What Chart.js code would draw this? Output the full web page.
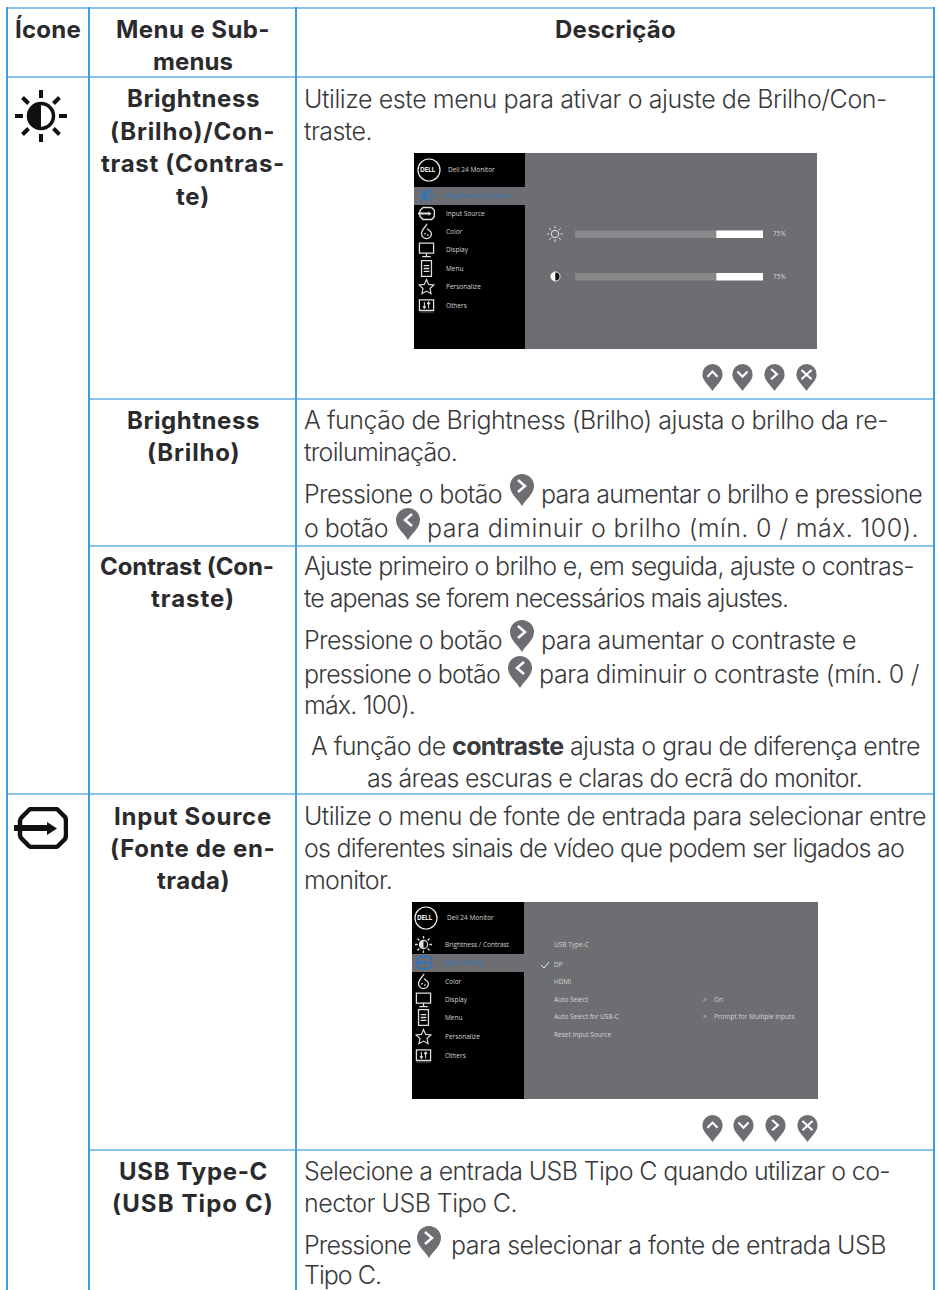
<!DOCTYPE html>
<html lang="pt">
<head>
<meta charset="utf-8">
<title>Ícone, Menu e Submenus, Descrição</title>
<script src="https://cdn.jsdelivr.net/npm/chart.js@4"></script>
<style>
  html, body { margin: 0; padding: 0; background: #fff; }
  #page { position: relative; width: 940px; height: 1290px; overflow: hidden; font-family: Inter, sans-serif; color: #3a3a3c; }
  .l { position: absolute; white-space: nowrap; font-size: 25px; line-height: 26px; margin-top: 3px; font-weight: 300; }
  .b { font-weight: 700; color: #2b2b2d; font-size: 24px; margin-top: 4px; }
  .v { position: absolute; width: 2px; background: #3d9fde; }
  .h { position: absolute; height: 2px; background: #8cc3ea; }
  .pin { position: absolute; width: 24px; height: 32px; }
  .pin.sm { width: 21px; height: 27px; }
  .osd { position: absolute; background: #6d6e71; }
  .osd .side { position: absolute; left: 0; top: 0; bottom: 0; background: #000; }
  .osd .hi { position: absolute; left: 0; height: 18px; background: #6d6e71; }
  .osd .m { position: absolute; font-size: 6.5px; line-height: 8px; color: #d4d4d4; white-space: nowrap; font-family: "Open Sans", sans-serif; }
  .osd .m.on { color: #2677c4; }
  .osd svg { position: absolute; }
  #brilhoChart { position: absolute; left: 525px; top: 153px; }
</style>
</head>
<body>
<svg width="0" height="0" style="position:absolute">
  <defs>
    <symbol id="sun" viewBox="0 0 52 52">
      <circle cx="26" cy="26" r="12.5" fill="none" stroke="currentColor" stroke-width="3.5"/>
      <path d="M26 13.5a12.5 12.5 0 0 0 0 25z" fill="currentColor"/>
      <path d="M26 0v8M26 44v8M0 26h8M44 26h8M7.500 7.500l6 6M38.500 38.500l6 6M7.500 44.500l6-6M38.500 13.500l6-6" stroke="currentColor" stroke-width="4" fill="none"/>
    </symbol>
    <symbol id="sunline" viewBox="0 0 52 52">
      <circle cx="26" cy="26" r="12" fill="none" stroke="currentColor" stroke-width="3"/>
      <path d="M26 0v8M26 44v8M0 26h8M44 26h8M7.500 7.500l6 6M38.500 38.500l6 6M7.500 44.500l6-6M38.500 13.500l6-6" stroke="currentColor" stroke-width="3" fill="none"/>
    </symbol>
    <symbol id="input" viewBox="0 0 54 42">
      <path d="M6 14 Q6 12 8 10 L15 3 Q16 2 18 2 H41 Q43 2 44 3 L51 10 Q52 12 52 14 V28 Q52 30 51 32 L44 39 Q43 40 41 40 H18 Q16 40 15 39 L8 32 Q6 30 6 28Z" fill="none" stroke="currentColor" stroke-width="4.500"/>
      <path d="M0 18 H33 V15 L43 21.500 L33 28 V24 H0z" fill="currentColor"/>
    </symbol>
    <symbol id="color" viewBox="0 0 20 24">
      <path d="M11 1 C8 6 3 10 3 15 a7 7 0 0 0 14 0 c0-4-4-4-6-7" fill="none" stroke="currentColor" stroke-width="1.800"/>
      <circle cx="8" cy="15" r="1.200" fill="currentColor"/><circle cx="12" cy="17" r="1.200" fill="currentColor"/>
    </symbol>
    <symbol id="display" viewBox="0 0 24 24">
      <path d="M2 3h20v14H2z" fill="none" stroke="currentColor" stroke-width="1.800"/>
      <path d="M12 17v4M6 22h12" stroke="currentColor" stroke-width="1.800"/>
    </symbol>
    <symbol id="menu" viewBox="0 0 24 24">
      <path d="M5 1h14v22H5z" fill="none" stroke="currentColor" stroke-width="1.800"/>
      <path d="M8 8h8M8 12h8M8 16h8" stroke="currentColor" stroke-width="1.800"/>
    </symbol>
    <symbol id="star" viewBox="0 0 24 24">
      <path d="M12 2l3 7 7.500 .8-5.600 5 1.600 7.400-6.500-3.800-6.500 3.800 1.600-7.400-5.600-5L9 9z" fill="none" stroke="currentColor" stroke-width="1.600"/>
    </symbol>
    <symbol id="others" viewBox="0 0 24 24">
      <path d="M2 4h20v15H2z" fill="none" stroke="currentColor" stroke-width="1.800"/>
      <path d="M9 7v9M7 13l2 3 2-3M15 16V7M13 10l2-3 2 3" fill="none" stroke="currentColor" stroke-width="1.500"/>
      <path d="M2 21h20" stroke="#555" stroke-width="2"/>
    </symbol>
    <symbol id="half" viewBox="0 0 12 12">
      <path d="M6 1a5 5 0 0 0 0 10z" fill="#fff"/>
      <path d="M6 1a5 5 0 0 1 0 10z" fill="#111"/>
      <circle cx="6" cy="6" r="5" fill="none" stroke="#fff" stroke-width="1"/>
    </symbol>
    <symbol id="pinUp" viewBox="0 0 24 32"><path d="M12 32C8 25 0 20 0 12A12 12 0 0 1 24 12C24 20 16 25 12 32Z" fill="#6d6e71"/><path d="M6 15l6-6 6 6" fill="none" stroke="#fff" stroke-width="2.500"/></symbol>
    <symbol id="pinDown" viewBox="0 0 24 32"><path d="M12 32C8 25 0 20 0 12A12 12 0 0 1 24 12C24 20 16 25 12 32Z" fill="#6d6e71"/><path d="M6 9l6 6 6-6" fill="none" stroke="#fff" stroke-width="2.500"/></symbol>
    <symbol id="pinRight" viewBox="0 0 24 32"><path d="M12 32C8 25 0 20 0 12A12 12 0 0 1 24 12C24 20 16 25 12 32Z" fill="#6d6e71"/><path d="M8 6l7 6-7 6" fill="none" stroke="#fff" stroke-width="2.500"/></symbol>
    <symbol id="pinLeft" viewBox="0 0 24 32"><path d="M12 32C8 25 0 20 0 12A12 12 0 0 1 24 12C24 20 16 25 12 32Z" fill="#6d6e71"/><path d="M16 6l-7 6 7 6" fill="none" stroke="#fff" stroke-width="2.500"/></symbol>
    <symbol id="pinX" viewBox="0 0 24 32"><path d="M12 32C8 25 0 20 0 12A12 12 0 0 1 24 12C24 20 16 25 12 32Z" fill="#6d6e71"/><path d="M6 7l12 11M18 7L6 18" fill="none" stroke="#fff" stroke-width="2.500"/></symbol>
  </defs>
</svg>

<div id="page">
  <!-- grelha da tabela -->
  <div class="h" style="left:6px;top:7px;width:929px"></div>
  <div class="h" style="left:6px;top:76px;width:929px"></div>
  <div class="h" style="left:89px;top:398px;width:846px"></div>
  <div class="h" style="left:89px;top:545px;width:846px"></div>
  <div class="h" style="left:6px;top:793px;width:929px"></div>
  <div class="h" style="left:89px;top:1149px;width:846px"></div>
  <div class="v" style="left:6px;top:7px;height:1283px"></div>
  <div class="v" style="left:88px;top:7px;height:1283px"></div>
  <div class="v" style="left:295px;top:7px;height:1283px"></div>
  <div class="v" style="left:933px;top:7px;height:1283px"></div>

  <!-- cabeçalho -->
  <div class="l b" data-w="66" style="left:15px;top:13px">Ícone</div>
  <div class="l b" data-w="154" style="left:116px;top:13px">Menu e Sub-</div>
  <div class="l b" data-w="80" style="left:153px;top:45px">menus</div>
  <div class="l b" data-w="121" style="left:555px;top:13px">Descrição</div>

  <!-- coluna de menus -->
  <div class="l b" data-w="133" style="left:127px;top:82px">Brightness</div>
  <div class="l b" data-w="165" style="left:110px;top:115px">(Brilho)/Con-</div>
  <div class="l b" data-w="184" style="left:101px;top:147px">trast (Contras-</div>
  <div class="l b" data-w="34" style="left:176px;top:180px">te)</div>
  <div class="l b" data-w="133" style="left:127px;top:404px">Brightness</div>
  <div class="l b" data-w="93" style="left:147px;top:436px">(Brilho)</div>
  <div class="l b" data-w="174" style="left:100px;top:550px">Contrast (Con-</div>
  <div class="l b" data-w="84" style="left:151px;top:582px">traste)</div>
  <div class="l b" data-w="158" style="left:114px;top:800px">Input Source</div>
  <div class="l b" data-w="165" style="left:110px;top:832px">(Fonte de en-</div>
  <div class="l b" data-w="73" style="left:157px;top:864px">trada)</div>
  <div class="l b" data-w="149" style="left:119px;top:1155px">USB Type-C</div>
  <div class="l b" data-w="162" style="left:112px;top:1187px">(USB Tipo C)</div>

  <!-- coluna de descrição -->
  <div class="l" data-w="583" style="left:304px;top:83px">Utilize este menu para ativar o ajuste de Brilho/Con-</div>
  <div class="l" data-w="68" style="left:304px;top:115px">traste.</div>
  <div class="l" data-w="584" style="left:304px;top:404px">A função de Brightness (Brilho) ajusta o brilho da re-</div>
  <div class="l" data-w="153" style="left:304px;top:436px">troiluminação.</div>
  <div class="l" data-w="198" style="left:304px;top:478px">Pressione o botão</div>
  <div class="l" data-w="381" style="left:541px;top:478px">para aumentar o brilho e pressione</div>
  <div class="l" data-w="84" style="left:304px;top:512px">o botão</div>
  <div class="l" data-w="492" style="left:427px;top:512px">para diminuir o brilho (mín. 0 / máx. 100).</div>
  <div class="l" data-w="610" style="left:304px;top:550px">Ajuste primeiro o brilho e, em seguida, ajuste o contras-</div>
  <div class="l" data-w="484" style="left:304px;top:582px">te apenas se forem necessários mais ajustes.</div>
  <div class="l" data-w="198" style="left:304px;top:624px">Pressione o botão</div>
  <div class="l" data-w="315" style="left:541px;top:624px">para aumentar o contraste e</div>
  <div class="l" data-w="196" style="left:304px;top:658px">pressione o botão</div>
  <div class="l" data-w="380" style="left:539px;top:658px">para diminuir o contraste (mín. 0 /</div>
  <div class="l" data-w="111" style="left:304px;top:689px">máx. 100).</div>
  <div class="l" data-w="609" style="left:311px;top:730px">A função de <span style="font-weight:700">contraste</span> ajusta o grau de diferença entre</div>
  <div class="l" data-w="495" style="left:367px;top:762px">as áreas escuras e claras do ecrã do monitor.</div>
  <div class="l" data-w="622" style="left:304px;top:800px">Utilize o menu de fonte de entrada para selecionar entre</div>
  <div class="l" data-w="600" style="left:304px;top:832px">os diferentes sinais de vídeo que podem ser ligados ao</div>
  <div class="l" data-w="88" style="left:304px;top:864px">monitor.</div>
  <div class="l" data-w="586" style="left:304px;top:1155px">Selecione a entrada USB Tipo C quando utilizar o co-</div>
  <div class="l" data-w="213" style="left:304px;top:1187px">nector USB Tipo C.</div>
  <div class="l" data-w="107" style="left:304px;top:1229px">Pressione</div>
  <div class="l" data-w="435" style="left:451px;top:1229px">para selecionar a fonte de entrada USB</div>
  <div class="l" data-w="77" style="left:304px;top:1259px">Tipo C.</div>

  <!-- ícones grandes -->
  <svg style="position:absolute;left:15px;top:90px;color:#111" width="52" height="52"><use href="#sun"/></svg>
  <svg style="position:absolute;left:14px;top:807px;color:#111" width="54" height="42"><use href="#input"/></svg>

  <!-- botões na linha do texto -->
  <svg class="pin" style="left:510px;top:474px"><use href="#pinRight"/></svg>
  <svg class="pin" style="left:396px;top:508px"><use href="#pinLeft"/></svg>
  <svg class="pin" style="left:510px;top:620px"><use href="#pinRight"/></svg>
  <svg class="pin" style="left:508px;top:656px"><use href="#pinLeft"/></svg>
  <svg class="pin" style="left:417px;top:1226px"><use href="#pinRight"/></svg>

  <!-- botões por baixo dos OSD -->
  <svg class="pin sm" style="left:702px;top:364px"><use href="#pinUp"/></svg>
  <svg class="pin sm" style="left:732px;top:364px"><use href="#pinDown"/></svg>
  <svg class="pin sm" style="left:764px;top:364px"><use href="#pinRight"/></svg>
  <svg class="pin sm" style="left:796px;top:364px"><use href="#pinX"/></svg>
  <svg class="pin sm" style="left:702px;top:1115px"><use href="#pinUp"/></svg>
  <svg class="pin sm" style="left:733px;top:1115px"><use href="#pinDown"/></svg>
  <svg class="pin sm" style="left:765px;top:1115px"><use href="#pinRight"/></svg>
  <svg class="pin sm" style="left:797px;top:1115px"><use href="#pinX"/></svg>

  <div id="osd1" class="osd" style="left:414px;top:153px;width:403px;height:196px"></div>
  <div id="osd2" class="osd" style="left:412px;top:902px;width:406px;height:197px"></div>
  <canvas id="brilhoChart" width="292" height="196"></canvas>
</div>

<script>
// Dados do gráfico de brilho / contraste
const ajustes = ['Brightness', 'Contrast'];
const valores = [75, 75];
const restante = [25, 25];
const etiquetas = ['75%', '75%'];

// Menu do OSD
const menuItens = ['Brightness / Contrast', 'Input Source', 'Color', 'Display', 'Menu', 'Personalize', 'Others'];
const menuIcones = ['sun', 'input', 'color', 'display', 'menu', 'star', 'others'];
const submenuFonte = ['USB Type-C', 'DP', 'HDMI', 'Auto Select', 'Auto Select for USB-C', 'Reset Input Source'];
const opcoesFonte = ['On', 'Prompt for Multiple Inputs'];

function caixaOsd(el, larguraSide, ativo, linhas, xTexto, xIcone, tituloY) {
  let html = `<div class="side" style="width:${larguraSide}px"></div>`;
  html += `<div class="hi" style="width:${larguraSide}px;top:${linhas[ativo] - 9}px"></div>`;
  html += `<svg width="24" height="24" style="left:${xIcone - 1}px;top:${tituloY - 12}px"><circle cx="12" cy="12" r="11" fill="none" stroke="#eee" stroke-width="1.2"/></svg>`;
  html += `<div class="m" style="left:${xIcone + 2}px;top:${tituloY - 4}px;font-weight:700;color:#eee;letter-spacing:-.2px">DELL</div>`;
  html += `<div class="m" style="left:${xTexto + 2}px;top:${tituloY - 4}px">Dell 24 Monitor</div>`;
  menuItens.forEach((item, i) => {
    const cor = i === ativo ? '#2677c4' : '#e0e0e0';
    html += `<svg width="17" height="17" style="left:${xIcone}px;top:${linhas[i] - 9}px;color:${cor}"><use href="#${menuIcones[i]}"/></svg>`;
    html += `<div class="m ${i === ativo ? 'on' : ''}" style="left:${xTexto}px;top:${linhas[i] - 4}px">${item}</div>`;
  });
  el.innerHTML = html;
}

caixaOsd(document.getElementById('osd1'), 111, 0, [43, 61, 79, 97, 116, 134, 153], 32, 4, 17);
caixaOsd(document.getElementById('osd2'), 112, 1, [43, 61, 80, 98, 116, 135, 154], 33, 3, 16);

// ícones do painel de brilho
document.getElementById('osd1').insertAdjacentHTML('beforeend',
  `<svg width="16" height="16" style="left:133px;top:73px;color:#e8e8e8"><use href="#sunline"/></svg>` +
  `<svg width="11" height="11" style="left:136px;top:118px"><use href="#half"/></svg>`);

// lista da fonte de entrada
const osd2 = document.getElementById('osd2');
const linhasFonte = [43, 63, 80, 98, 115, 133];
let extra = '';
submenuFonte.forEach((item, i) => {
  extra += `<div class="m" style="left:142px;top:${linhasFonte[i] - 4}px">${item}</div>`;
});
extra += `<svg width="10" height="8" style="left:128px;top:59px"><path d="M1 4l3 3 5-6" fill="none" stroke="#eee" stroke-width="1"/></svg>`;
opcoesFonte.forEach((item, i) => {
  const y = linhasFonte[3 + i] - 4;
  extra += `<div class="m" style="left:291px;top:${y}px">&gt;</div>`;
  extra += `<div class="m" style="left:302px;top:${y}px">${item}</div>`;
});
osd2.insertAdjacentHTML('beforeend', extra);

// Ajusta cada linha de texto à largura medida no original
document.querySelectorAll('.l[data-w]').forEach(el => {
  const alvo = Number(el.dataset.w);
  const natural = el.getBoundingClientRect().width;
  const n = el.textContent.length;
  el.style.letterSpacing = ((alvo - natural) / n).toFixed(3) + 'px';
});

const chartBrilho = document.getElementById('brilhoChart');
new Chart(chartBrilho, {
  type: 'bar',
  data: {
    labels: ajustes,
    datasets: [
      { data: valores, backgroundColor: '#87888a', barThickness: 7 },
      { data: restante, backgroundColor: '#ffffff', barThickness: 7 }
    ]
  },
  options: {
    indexAxis: 'y',
    responsive: false,
    animation: false,
    layout: { padding: { left: 50, top: 60, bottom: 51, right: 0 } },
    plugins: { legend: { display: false }, tooltip: { enabled: false } },
    scales: {
      x: { stacked: true, min: 0, max: 100, display: false },
      y: {
        stacked: true,
        position: 'right',
        grid: { display: false, drawTicks: false },
        border: { display: false },
        ticks: {
          padding: 10,
          color: '#d8d8d8',
          font: { size: 6.5, family: '"Open Sans", sans-serif' },
          callback: (v, i) => etiquetas[i]
        },
        afterFit: s => { s.width = 54; }
      }
    }
  }
});
</script>
</body>
</html>
